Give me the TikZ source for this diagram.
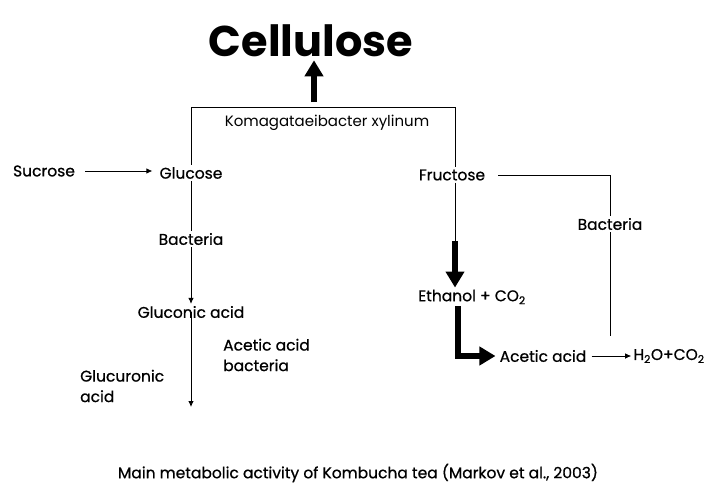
\documentclass[tikz,border=0pt]{standalone}
\usepackage{fontspec}
\setmainfont{Poppins}
\newfontfamily\medfont{Poppins}[FakeBold=0.7]
\usetikzlibrary{arrows.meta}
\begin{document}
\begin{tikzpicture}[x=1pt,y=-1pt,line join=miter,
  lbl/.style={font=\medfont\fontsize{15.5}{20.5}\selectfont,inner sep=2pt},
  thin arrow/.style={line width=0.8pt,-{Latex[length=6pt,width=5.5pt]}},
  fat arrow/.style={line width=6.5pt,-{Triangle[length=16pt,width=18pt]}}]
  \useasboundingbox (0,0) rectangle (707,487);
  % nodes
  \node[font=\bfseries\fontsize{43}{50}\selectfont,inner sep=0pt] (cell) at (311,41) {Cellulose};
  \node[font=\fontsize{15}{18}\selectfont,inner sep=2pt] (koma) at (327,123) {Komagataeibacter xylinum};
  \node[lbl] (suc) at (44,171) {Sucrose};
  \node[lbl] (glu) at (191,173) {Glucose};
  \node[lbl] (bac1) at (191,239) {Bacteria};
  \node[lbl] (gluc) at (191,312) {Gluconic acid};
  \node[lbl,align=left,anchor=west] (aab) at (221,355) {Acetic acid\\bacteria};
  \node[lbl,align=left,anchor=west] (glur) at (78,386) {Glucuronic\\acid};
  \node[lbl] (fru) at (452,175) {Fructose};
  \node[lbl] (bac2) at (610,224) {Bacteria};
  \node[lbl] (eth) at (472,297) {Ethanol + CO\textsubscript{2}};
  \node[lbl] (acet) at (543,356) {Acetic acid};
  \node[lbl] (wat) at (669,356) {H\textsubscript{2}O+CO\textsubscript{2}};
  \node[font=\medfont\fontsize{15.5}{18}\selectfont] (capt) at (358,473) {Main metabolic activity of Kombucha tea (Markov et al., 2003)};
  % coordinates
  \coordinate (kl) at (191,107);
  \coordinate (kr) at (455,107);
  \coordinate (cfoot) at (314,102);
  \coordinate (sucend) at (85,171);
  \coordinate (glend) at (191,407);
  \coordinate (fthick) at (455,242);
  \coordinate (rc) at (610,175);
  \coordinate (rend) at (610,336);
  \coordinate (ebend) at (458,356);
  % connectors
  \draw[line width=0.6pt] (glu.north) -- (kl) -- (kr) -- (fru.north -| kr);
  \draw[fat arrow] (cfoot) -- ([yshift=-3pt]cell.south -| cfoot);
  \draw[thin arrow] (sucend) -- ([xshift=-5pt]glu.west |- sucend);
  \draw[line width=0.6pt] (glu.south) -- (bac1.north);
  \draw[thin arrow] (bac1.south) -- (gluc.north);
  \draw[thin arrow] ([yshift=8pt]gluc.south) -- (glend);
  \draw[line width=0.6pt] (fru.south -| fthick) -- (fthick);
  \draw[fat arrow] ([yshift=1pt]fthick) -- (eth.north -| fthick);
  \draw[line width=0.6pt] ([xshift=11pt]fru.east |- rc) -- (rc) -- (bac2.north -| rc);
  \draw[line width=0.6pt] (bac2.south -| rc) -- (rend);
  \draw[fat arrow] (eth.south -| ebend) -- (ebend) -- ([xshift=-2pt]acet.west |- ebend);
  \draw[thin arrow] ([xshift=3pt]acet.east) -- (wat.west);
\end{tikzpicture}
\end{document}
